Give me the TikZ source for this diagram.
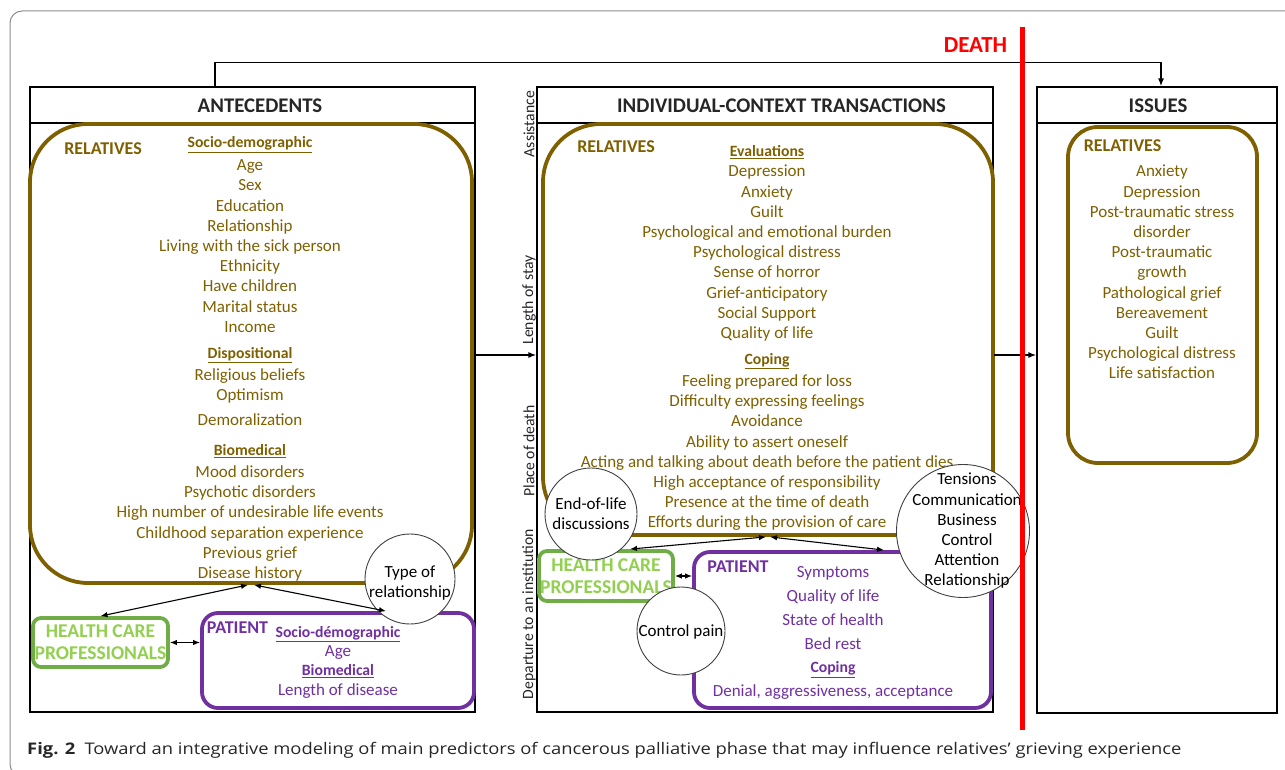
\documentclass[tikz,border=0pt]{standalone}
\usepackage{fontspec}
\setmainfont{Carlito}
\newfontfamily\captionfont{Open Sans}
\usetikzlibrary{arrows.meta}
\definecolor{relbrown}{HTML}{7F6000}
\definecolor{patpurple}{HTML}{7030A0}
\definecolor{hcpgreen}{HTML}{70AD47}
\definecolor{hcplight}{HTML}{92D050}
\definecolor{inkgray}{HTML}{262626}
\definecolor{ringgray}{HTML}{404040}
\definecolor{framegray}{HTML}{8C8C8C}
\newcommand{\grouptitle}[1]{{\fontsize{15.7}{20.2}\selectfont\bfseries\underline{#1}}}

\begin{document}
\begin{tikzpicture}[x=1pt, y=-1pt,
  bodyfont/.style={font=\fontsize{17}{20.2}\selectfont},
  panel/.style={draw=black, line width=1.1pt, inner sep=0pt},
  headtext/.style={font=\fontsize{20.8}{24}\selectfont\bfseries, text=inkgray, inner sep=0pt},
  relbox/.style={draw=relbrown, line width=3.8pt, inner sep=0pt},
  reltext/.style={bodyfont, text=relbrown, align=center, anchor=north, inner sep=0pt},
  pattext/.style={reltext, text=patpurple},
  tag/.style={font=\fontsize{18}{20}\selectfont\bfseries, inner sep=0pt},
  hcpbox/.style={draw=hcpgreen, fill=white, line width=3.8pt, rounded corners=8pt,
    text=hcplight, font=\fontsize{19.5}{22}\selectfont\bfseries, align=center, inner sep=0pt},
  patbox/.style={draw=patpurple, line width=3.8pt, rounded corners=16pt, inner sep=0pt},
  ring/.style={circle, draw=ringgray, fill=white, line width=0.9pt, inner sep=0pt},
  ringtext/.style={bodyfont, text=black, align=center, inner sep=0pt},
  sidetext/.style={rotate=90, font=\fontsize{15.7}{18}\selectfont, text=inkgray, inner sep=0pt},
  link/.style={line width=1.1pt, {Latex[length=7pt,width=5.5pt]}-{Latex[length=7pt,width=5.5pt]}},
  flow/.style={line width=1.8pt, -{Latex[length=8pt,width=6pt]}}]
\useasboundingbox (0,0) rectangle (1285,770);
%%% outer frame
\draw[framegray, line width=1pt, rounded corners=12pt] (10,11) rectangle (1300,776);

%%% Draws panels
% headers
\node[panel, minimum width=445pt, minimum height=36pt] (antecHead) at (252.5,105) {};
\node[panel, minimum width=456pt, minimum height=36pt] (transHead) at (765,105) {};
\node[panel, minimum width=240pt, minimum height=36pt] (issuesHead) at (1157,105) {};
\node[headtext] (antecTitle) at (260,106) {ANTECEDENTS};
\node[headtext] (transTitle) at (781.5,106) {INDIVIDUAL-CONTEXT TRANSACTIONS};
\node[headtext] (issuesTitle) at (1158,106) {ISSUES};
% bodies
\node[panel, minimum width=445pt, minimum height=589pt] (antec) at (252.5,417.5) {};
\node[panel, minimum width=456pt, minimum height=589pt] (trans) at (765,417.5) {};
\node[panel, minimum width=240pt, minimum height=590pt] (issues) at (1157,418) {};
% side labels of the transactions
\node[sidetext] (sideA) at (529,124) {Assistance};
\node[sidetext] (sideB) at (529,300) {Length of stay};
\node[sidetext] (sideC) at (529,451) {Place of death};
\node[sidetext] (sideD) at (529,614) {Departure to an institution};

%%% Draws antecedents
\node[relbox, rounded corners=58pt, minimum width=442pt, minimum height=459pt] (relL) at (251,353.5) {};
\node[tag, text=relbrown] (relLtag) at (103,149) {RELATIVES};
\node[reltext] (relLtxt) at (250,136.5) {\grouptitle{Socio-demographic}\\[2.8pt]
  Age\\Sex\\Education\\Relationship\\Living with the sick person\\Ethnicity\\Have children\\Marital status\\Income\\[5.8pt]
  \grouptitle{Dispositional}\\[1.8pt]
  Religious beliefs\\Optimism\\[4.8pt]
  Demoralization\\[9.8pt]
  \grouptitle{Biomedical}\\[1.8pt]
  Mood disorders\\Psychotic disorders\\High number of undesirable life events\\Childhood separation experience\\Previous grief\\Disease history};
\node[hcpbox, minimum width=135pt, minimum height=49pt] (hcpL) at (100.5,642.5) {HEALTH CARE\\PROFESSIONALS};
\node[patbox, minimum width=272pt, minimum height=95pt] (patL) at (338,660.5) {};
\node[tag, text=patpurple] (patLtag) at (237.5,628) {PATIENT};
\node[pattext, font=\fontsize{17}{19.3}\selectfont] (patLtxt) at (338,626) {\grouptitle{Socio-démographic}\\Age\\\grouptitle{Biomedical}\\Length of disease};
\node[ring, minimum size=90pt] (typeRel) at (410,579) {};
\node[ringtext] (typeRelTxt) at (410,583) {Type of\\relationship};
% links
\draw[link] ([xshift=-3pt]relL.south) -- (hcpL.north);
\draw[link] ([xshift=3pt]relL.south) -- ([xshift=48pt]patL.north);
\draw[link] (hcpL.east) -- (patL.west |- hcpL.east);

%%% Draws transactions
\node[relbox, rounded corners=58pt, minimum width=450pt, minimum height=411pt] (relM) at (768,329.5) {};
\node[tag, text=relbrown] (relMtag) at (616,147) {RELATIVES};
\node[reltext] (relMtxt) at (767,145.5) {\grouptitle{Evaluations}\\
  Depression\\Anxiety\\Guilt\\Psychological and emotional burden\\Psychological distress\\Sense of horror\\Grief-anticipatory\\Social Support\\Quality of life\\[5.8pt]
  \grouptitle{Coping}\\[1.8pt]
  Feeling prepared for loss\\Difficulty expressing feelings\\Avoidance\\Ability to assert oneself\\Acting and talking about death before the patient dies\\High acceptance of responsibility\\Presence at the time of death\\Efforts during the provision of care};
\node[hcpbox, minimum width=134pt, minimum height=50pt] (hcpM) at (606,576) {HEALTH CARE\\PROFESSIONALS};
\node[patbox, minimum width=297pt, minimum height=156pt] (patM) at (842.5,630) {};
\node[tag, text=patpurple] (patMtag) at (738,567) {PATIENT};
\node[pattext, font=\fontsize{17}{23.8}\selectfont] (patMtxt) at (833,566.5) {Symptoms\\Quality of life\\State of health\\Bed rest\\\grouptitle{Coping}\\Denial, aggressiveness, acceptance};
\node[ring, minimum size=92pt] (endLife) at (591,514) {};
\node[ringtext] (endLifeTxt) at (591,514) {End-of-life\\discussions};
\node[ring, minimum size=88pt] (ctrlPain) at (681,631) {};
\node[ringtext] (ctrlPainTxt) at (681,632) {Control pain};
\node[ring, minimum size=133pt] (tensions) at (963,531) {};
\node[ringtext] (tensionsTxt) at (967,531) {Tensions\\Communication\\Business\\Control\\Attention\\Relationship};
% links
\draw[link] ([xshift=-2pt]relM.south) -- ([xshift=24pt]hcpM.north);
\draw[link] ([xshift=2pt]relM.south) -- ([xshift=41.5pt]patM.north);
\draw[link] (hcpM.east) -- (patM.west |- hcpM.east);

%%% Draws issues
\node[relbox, rounded corners=30pt, minimum width=189pt, minimum height=336pt] (relR) at (1162.5,295) {};
\node[tag, text=relbrown] (relRtag) at (1122.5,146) {RELATIVES};
\node[reltext] (relRtxt) at (1162,165) {Anxiety\\Depression\\Post-traumatic stress\\disorder\\Post-traumatic\\growth\\Pathological grief\\Bereavement\\Guilt\\Psychological distress\\Life satisfaction};

%%% Draws flows
\coordinate (flowlevel) at (0,355);
\draw[flow] (antec.east |- flowlevel) -- (trans.west |- flowlevel);
\draw[flow] (trans.east |- flowlevel) -- (issues.west |- flowlevel);
\draw[flow] ([xshift=-37.5pt]antecHead.north) -- ++(0,-24) -| ([xshift=4pt]issuesHead.north);
% death line
\node[font=\fontsize{23}{26}\selectfont\bfseries, text=red, inner sep=0pt] (death) at (975.5,45) {DEATH};
\draw[red, line width=5pt] (1022,27) -- (1022,730);

%%% caption
\node[anchor=west, inner sep=0pt, xscale=1.147, text=inkgray, font=\captionfont\fontsize{16}{20}\selectfont] (caption) at (27,750)
  {\textbf{Fig. 2}\hspace{8pt}Toward an integrative modeling of main predictors of cancerous palliative phase that may influence relatives’ grieving experience};
\end{tikzpicture}
\end{document}
